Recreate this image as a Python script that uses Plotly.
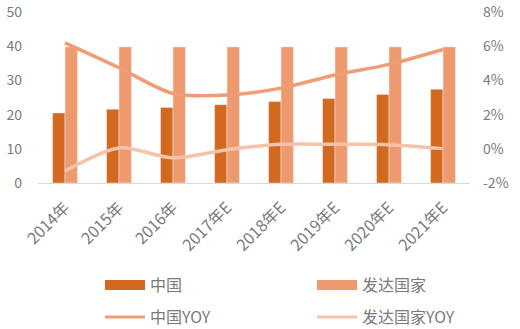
import plotly.graph_objects as go

categories = ["2014年", "2015年", "2016年", "2017年E", "2018年E", "2019年E", "2020年E", "2021年E"]
china = [20.5, 21.6, 22.1, 22.9, 23.8, 24.7, 25.9, 27.4]
developed = [39.8, 39.8, 39.8, 39.8, 39.8, 39.8, 39.8, 39.8]
china_yoy = [6.19, 4.74, 3.23, 3.14, 3.55, 4.32, 4.94, 5.81]
developed_yoy = [-1.30, 0.05, -0.53, -0.05, 0.26, 0.26, 0.24, 0.01]
left_ticks = [0, 10, 20, 30, 40, 50]
right_ticks = [-2, 0, 2, 4, 6, 8]
right_labels = ["-2%", "0%", "2%", "4%", "6%", "8%"]

C_CN = "#D2691F"
C_DEV = "#EE9A6E"
C_CN_YOY = "#F09C76"
C_DEV_YOY = "#F6C3AA"
GRAY = "#7a7a7a"
FONT = "Noto Sans CJK SC"

fig = go.Figure()
fig.add_trace(go.Bar(x=categories, y=china, marker_color=C_CN, showlegend=False, name="中国"))
fig.add_trace(go.Bar(x=categories, y=developed, marker_color=C_DEV, showlegend=False, name="发达国家"))
fig.add_trace(go.Scatter(x=categories, y=china_yoy, yaxis="y2", mode="lines",
                         line=dict(color=C_CN_YOY, width=3.5, shape="spline", smoothing=0.8),
                         showlegend=False, name="中国YOY"))
fig.add_trace(go.Scatter(x=categories, y=developed_yoy, yaxis="y2", mode="lines",
                         line=dict(color=C_DEV_YOY, width=3.5, shape="spline", smoothing=0.8),
                         showlegend=False, name="发达国家YOY"))

# legend-only entries
fig.add_trace(go.Scatter(x=[None], y=[None], mode="lines", name="中国",
                         line=dict(color=C_CN, width=10), legend="legend"))
fig.add_trace(go.Scatter(x=[None], y=[None], mode="lines", name="发达国家",
                         line=dict(color=C_DEV, width=10), legend="legend"))
fig.add_trace(go.Scatter(x=[None], y=[None], mode="lines", name="中国YOY",
                         line=dict(color=C_CN_YOY, width=3), legend="legend2"))
fig.add_trace(go.Scatter(x=[None], y=[None], mode="lines", name="发达国家YOY",
                         line=dict(color=C_DEV_YOY, width=3), legend="legend2"))

legend_common = dict(orientation="h", xref="container", yref="container",
                     xanchor="left", yanchor="middle", entrywidth=157, entrywidthmode="pixels",
                     font=dict(family=FONT, size=16, color=GRAY), bgcolor="rgba(0,0,0,0)",
                     itemwidth=40)

fig.update_layout(
    width=520, height=329,
    margin=dict(l=38, r=50, t=12, b=146),
    paper_bgcolor="white", plot_bgcolor="white",
    barmode="group", bargap=0.54, bargroupgap=0,
    font=dict(family=FONT, size=15, color=GRAY),
    xaxis=dict(showline=True, linecolor="#d9d9d9", linewidth=1, ticks="",
               tickangle=-45, tickfont=dict(size=16, color=GRAY), showgrid=False,
               ticklabelstandoff=8, automargin=False),
    yaxis=dict(range=[0, 50], tickvals=left_ticks, showgrid=False, zeroline=False,
               showline=False, ticks="", tickfont=dict(size=14, color=GRAY),
               ticklabelstandoff=15, ticklabeloverflow="allow", automargin=False),
    yaxis2=dict(range=[-2, 8], tickvals=right_ticks, ticktext=right_labels, overlaying="y",
                side="right", showgrid=False, zeroline=False, showline=False, ticks="",
                tickfont=dict(size=14, color=GRAY), ticklabelstandoff=12,
                ticklabeloverflow="allow", automargin=False),
    legend=dict(x=100/520, y=1-285/329, **legend_common),
    legend2=dict(x=100/520, y=1-317/329, **legend_common),
)

fig.write_html("out.html")
